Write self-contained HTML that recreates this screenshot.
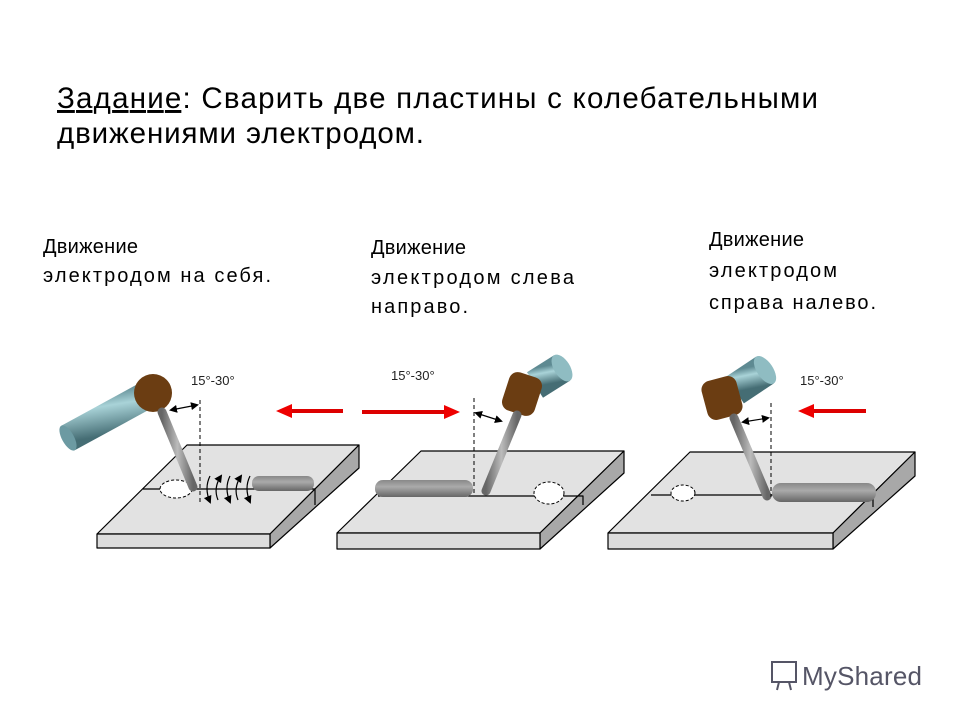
<!DOCTYPE html>
<html><head><meta charset="utf-8"><style>
body{margin:0;background:#fff;}
svg{display:block;font-family:"Liberation Sans",Arial,sans-serif;}
</style></head><body>
<svg width="960" height="720" viewBox="0 0 960 720" xmlns="http://www.w3.org/2000/svg">
<defs>
<linearGradient id="cyl" x1="0" y1="0" x2="0.3" y2="1">
<stop offset="0" stop-color="#5e8a92"/><stop offset="0.35" stop-color="#a9d3d8"/><stop offset="1" stop-color="#456d74"/></linearGradient>
<linearGradient id="rod" x1="0" y1="0" x2="1" y2="0">
<stop offset="0" stop-color="#666"/><stop offset="0.5" stop-color="#bbb"/><stop offset="1" stop-color="#666"/></linearGradient>
<linearGradient id="bead" x1="0" y1="0" x2="0" y2="1">
<stop offset="0" stop-color="#888"/><stop offset="0.4" stop-color="#aaa"/><stop offset="1" stop-color="#666"/></linearGradient>
<marker id="ah" markerWidth="8" markerHeight="8" refX="6" refY="4" orient="auto-start-reverse" markerUnits="userSpaceOnUse"><path d="M0,0 L8,4 L0,8 z" fill="#000"/></marker>
<marker id="rh" markerWidth="16" markerHeight="14" refX="2" refY="7" orient="auto" markerUnits="userSpaceOnUse"><path d="M0,0 L16,7 L0,14 z" fill="#e00"/></marker>
</defs>

<text x="57" y="108" font-size="29.5" textLength="761" lengthAdjust="spacing"><tspan text-decoration="underline">Задание</tspan>: Сварить две пластины с колебательными</text>
<text x="57" y="143" font-size="29.5" textLength="367" lengthAdjust="spacing">движениями электродом.</text>

<g font-size="20">
<text x="43" y="253" textLength="95" lengthAdjust="spacing">Движение</text>
<text x="43" y="282" textLength="228" lengthAdjust="spacing">электродом на себя.</text>
<text x="371" y="254" textLength="95" lengthAdjust="spacing">Движение</text>
<text x="371" y="284" textLength="203" lengthAdjust="spacing">электродом слева</text>
<text x="371" y="313" textLength="97" lengthAdjust="spacing">направо.</text>
<text x="709" y="246" textLength="95" lengthAdjust="spacing">Движение</text>
<text x="709" y="277" textLength="128" lengthAdjust="spacing">электродом</text>
<text x="709" y="309" textLength="167" lengthAdjust="spacing">справа налево.</text>
</g>
<g font-size="13" fill="#222">
<text x="191" y="385">15°-30°</text>
<text x="391" y="380">15°-30°</text>
<text x="800" y="385">15°-30°</text>
</g>

<!-- Panel 1 -->
<g stroke="#000" stroke-width="1.2" stroke-linejoin="round">
<polygon points="187,445 359,445 270,534 97,534" fill="#e2e2e2"/>
<polygon points="359,445 359,468 270,548 270,534" fill="#a8a8a8"/>
<rect x="97" y="534" width="173" height="14" fill="#dcdcdc"/>
<polyline points="143,489 315,489 315,505" fill="none"/>
</g>
<ellipse cx="176" cy="489" rx="16" ry="9" fill="#fff" stroke="#000" stroke-dasharray="3,2"/>
<rect x="252" y="476" width="62" height="15" rx="7" fill="url(#bead)"/>
<line x1="68" y1="438" x2="145" y2="396" stroke="url(#cyl)" stroke-width="28"/>
<ellipse cx="68" cy="438" rx="6" ry="14" transform="rotate(-29 68 438)" fill="#6c9aa2"/>
<circle cx="153" cy="393" r="19" fill="#6b3d12"/>
<line x1="162" y1="412" x2="193" y2="487" stroke="url(#rod)" stroke-width="9" stroke-linecap="round"/>
<line x1="200" y1="400" x2="200" y2="505" stroke="#000" stroke-dasharray="4,3"/>
<line x1="171" y1="410" x2="197" y2="405" stroke="#000" stroke-width="1.2" marker-start="url(#ah)" marker-end="url(#ah)"/>
<g fill="none" stroke="#000" stroke-width="1.2">
<path d="M210,476 q-6,12 0,26" marker-end="url(#ah)"/>
<path d="M218,500 q-5,-12 3,-24" marker-end="url(#ah)"/>
<path d="M230,476 q-6,12 0,26" marker-end="url(#ah)"/>
<path d="M238,500 q-5,-12 3,-24" marker-end="url(#ah)"/>
<path d="M250,476 q-6,12 0,26" marker-end="url(#ah)"/>
</g>
<line x1="343" y1="411" x2="290" y2="411" stroke="#d00" stroke-width="4" marker-end="url(#rh)"/>

<!-- Panel 2 -->
<g stroke="#000" stroke-width="1.2" stroke-linejoin="round">
<polygon points="421,451 624,451 540,533 337,533" fill="#e2e2e2"/>
<polygon points="624,451 624,473 540,549 540,533" fill="#a8a8a8"/>
<rect x="337" y="533" width="203" height="16" fill="#dcdcdc"/>
<polyline points="378,496 583,496 583,505" fill="none"/>
</g>
<ellipse cx="549" cy="493" rx="15" ry="11" fill="#fff" stroke="#000" stroke-dasharray="3,2"/>
<rect x="375" y="480" width="98" height="17" rx="8" fill="url(#bead)"/>
<line x1="535" y1="385" x2="562" y2="368" stroke="url(#cyl)" stroke-width="30"/>
<ellipse cx="562" cy="368" rx="8" ry="15" transform="rotate(-32 562 368)" fill="#8fbcc2"/>
<rect x="505" y="374" width="34" height="40" rx="9" fill="#6b3d12" transform="rotate(18 522 394)"/>
<line x1="517" y1="415" x2="486" y2="491" stroke="url(#rod)" stroke-width="9" stroke-linecap="round"/>
<line x1="474" y1="398" x2="474" y2="494" stroke="#000" stroke-dasharray="4,3"/>
<line x1="476" y1="413" x2="501" y2="421" stroke="#000" stroke-width="1.2" marker-start="url(#ah)" marker-end="url(#ah)"/>
<line x1="362" y1="412" x2="446" y2="412" stroke="#d00" stroke-width="4" marker-end="url(#rh)"/>

<!-- Panel 3 -->
<g stroke="#000" stroke-width="1.2" stroke-linejoin="round">
<polygon points="690,452 915,452 833,533 608,533" fill="#e2e2e2"/>
<polygon points="915,452 915,476 833,549 833,533" fill="#a8a8a8"/>
<rect x="608" y="533" width="225" height="16" fill="#dcdcdc"/>
<polyline points="651,495 873,495 873,507" fill="none"/>
</g>
<ellipse cx="683" cy="493" rx="12" ry="8" fill="#fff" stroke="#000" stroke-dasharray="3,2"/>
<rect x="772" y="483" width="104" height="19" rx="9" fill="url(#bead)"/>
<line x1="735" y1="390" x2="765" y2="370" stroke="url(#cyl)" stroke-width="32"/>
<ellipse cx="765" cy="370" rx="8" ry="16" transform="rotate(-34 765 370)" fill="#8fbcc2"/>
<rect x="704" y="378" width="36" height="40" rx="9" fill="#6b3d12" transform="rotate(-15 722 398)"/>
<line x1="734" y1="418" x2="767" y2="496" stroke="url(#rod)" stroke-width="9" stroke-linecap="round"/>
<line x1="771" y1="403" x2="771" y2="497" stroke="#000" stroke-dasharray="4,3"/>
<line x1="743" y1="422" x2="768" y2="418" stroke="#000" stroke-width="1.2" marker-start="url(#ah)" marker-end="url(#ah)"/>
<line x1="866" y1="411" x2="812" y2="411" stroke="#d00" stroke-width="4" marker-end="url(#rh)"/>

<!-- watermark -->
<g stroke="#556" fill="none" stroke-width="2">
<rect x="772" y="662" width="24" height="20"/>
<line x1="779" y1="682" x2="777" y2="690"/><line x1="789" y1="682" x2="791" y2="690"/>
</g>
<text x="802" y="685" font-size="26" fill="#556" textLength="120" lengthAdjust="spacing">MyShared</text>
</svg>
</body></html>
